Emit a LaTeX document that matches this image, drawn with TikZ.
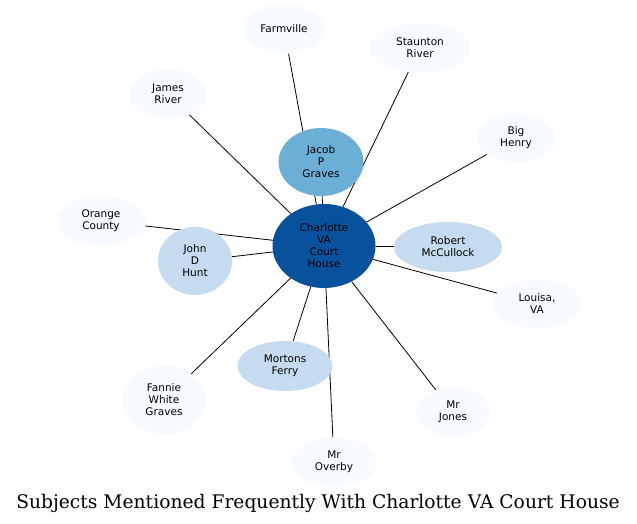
\documentclass[tikz,border=0pt]{standalone}
\usepackage{fontspec}
\setsansfont{DejaVu Sans}
\newfontfamily\titlefont{DejaVu Serif}
\usetikzlibrary{shapes.geometric,backgrounds}
\definecolor{blueA}{HTML}{F7FBFF}
\definecolor{blueB}{HTML}{C6DBEF}
\definecolor{blueC}{HTML}{6BAED6}
\definecolor{blueD}{HTML}{08519C}

\begin{document}
\begin{tikzpicture}[x=1pt,y=-1pt]
        \tikzstyle{every node} = [ellipse,inner sep=0pt,align=center,
          font=\sffamily\fontsize{10.5}{12}\selectfont]
        \tikzstyle{few} = [fill=blueA,minimum height=49]
        \useasboundingbox (0,0) rectangle (637,524);
        \node [fill=blueD,minimum width=103,minimum height=84] (cvch) at (324,246) {Charlotte\\VA\\Court\\House};
        \node [fill=blueC,minimum width=85,minimum height=68] (jpg) at (321,162) {Jacob\\P\\Graves};
        \node [fill=blueB,minimum width=108,minimum height=50] (rmc) at (448,247) {Robert\\McCullock};
        \node [fill=blueB,minimum width=74,minimum height=68] (jdh) at (195,261) {John\\D\\Hunt};
        \node [fill=blueB,minimum width=95,minimum height=50] (mf) at (285,366) {Mortons\\Ferry};
        \node [few,minimum width=82] (farm) at (284,29) {Farmville};
        \node [few,minimum width=102] (stau) at (420,48) {Staunton\\River};
        \node [few,minimum width=78] (jr) at (168,94) {James\\River};
        \node [few,minimum width=78] (bh) at (516,138) {Big\\Henry};
        \node [few,minimum width=90] (oc) at (101,221) {Orange\\County};
        \node [few,minimum width=88] (lva) at (537,304) {Louisa,\\VA};
        \node [few,minimum width=85,minimum height=68] (fwg) at (164,400) {Fannie\\White\\Graves};
        \node [few,minimum width=74] (mj) at (453,412) {Mr\\Jones};
        \node [few,minimum width=85] (mo) at (334,462) {Mr\\Overby};
        \node [rectangle,font=\titlefont\fontsize{18.7}{22}\selectfont,anchor=base] (title) at (318,508)
          {Subjects Mentioned Frequently With Charlotte VA Court House};
        \begin{pgfonlayer}{background}
        \draw [line width=0.8pt] (cvch) -- (jpg);
        \draw [line width=0.8pt] (cvch) -- (rmc);
        \draw [line width=0.8pt] (cvch) -- (jdh);
        \draw [line width=0.8pt] (cvch) -- (mf);
        \draw [line width=0.8pt] (cvch) -- (farm);
        \draw [line width=0.8pt] (cvch) -- (stau);
        \draw [line width=0.8pt] (cvch) -- (jr);
        \draw [line width=0.8pt] (cvch) -- (bh);
        \draw [line width=0.8pt] (cvch) -- (oc);
        \draw [line width=0.8pt] (cvch) -- (lva);
        \draw [line width=0.8pt] (cvch) -- (fwg);
        \draw [line width=0.8pt] (cvch) -- (mj);
        \draw [line width=0.8pt] (cvch) -- (mo);
        \end{pgfonlayer}
      \end{tikzpicture}
\end{document}
